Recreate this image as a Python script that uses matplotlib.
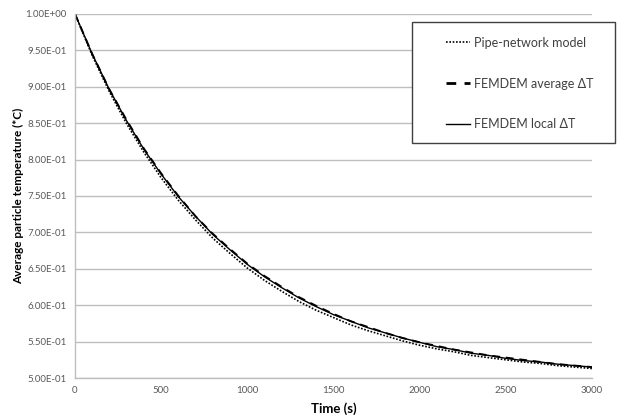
import matplotlib
matplotlib.use("Agg")
import matplotlib.pyplot as plt
from matplotlib.ticker import FuncFormatter
from matplotlib.lines import Line2D
from matplotlib.patches import Rectangle

plt.rcParams['font.family'] = ['Lato', 'DejaVu Sans']

time_s = [0, 100, 200, 300, 400, 500, 600, 700, 800, 900, 1000,
          1100, 1200, 1300, 1400, 1500, 1600, 1700, 1800, 1900, 2000,
          2100, 2200, 2300, 2400, 2500, 2600, 2700, 2800, 2900, 3000]

local_dT = [1.000, 0.945, 0.896, 0.853, 0.814, 0.780, 0.749, 0.722, 0.697, 0.676, 0.656,
            0.639, 0.624, 0.610, 0.598, 0.587, 0.578, 0.569, 0.562, 0.555, 0.549,
            0.543, 0.539, 0.534, 0.531, 0.527, 0.524, 0.522, 0.519, 0.517, 0.515]

average_dT = [1.000, 0.945, 0.896, 0.854, 0.815, 0.781, 0.750, 0.722, 0.698, 0.677, 0.657,
              0.640, 0.625, 0.611, 0.599, 0.588, 0.578, 0.570, 0.562, 0.555, 0.549,
              0.544, 0.539, 0.535, 0.531, 0.528, 0.525, 0.522, 0.519, 0.517, 0.515]

pipe_network = [1.000, 0.943, 0.893, 0.849, 0.810, 0.775, 0.744, 0.717, 0.692, 0.671, 0.651,
                0.634, 0.619, 0.605, 0.593, 0.583, 0.573, 0.565, 0.558, 0.551, 0.545,
                0.540, 0.536, 0.531, 0.528, 0.525, 0.522, 0.520, 0.517, 0.515, 0.513]

labels = ["Pipe-network model", "FEMDEM average \u0394T", "FEMDEM local \u0394T"]
y_ticks = [0.50, 0.55, 0.60, 0.65, 0.70, 0.75, 0.80, 0.85, 0.90, 0.95, 1.00]
x_ticks = [0, 500, 1000, 1500, 2000, 2500, 3000]

W, H = 630, 419
fig = plt.figure(figsize=(W / 100, H / 100), dpi=100)
ax = fig.add_axes([75 / W, 1 - 378 / H, (592 - 75) / W, (378 - 14) / H])

grid_c = '#BEBEBE'
ax.set_xlim(0, 3000)
ax.set_ylim(0.5, 1.0)
ax.set_yticks(y_ticks)
ax.set_xticks(x_ticks)
ax.yaxis.set_major_formatter(FuncFormatter(lambda v, p: "%.2E" % v))
ax.grid(axis='y', color=grid_c, linewidth=1.0)
ax.set_axisbelow(True)
for s in ['top', 'right']:
    ax.spines[s].set_visible(False)
for s in ['left', 'bottom']:
    ax.spines[s].set_color(grid_c)
    ax.spines[s].set_linewidth(1.0)
ax.tick_params(length=0, labelsize=7, colors='#595959', pad=6)

ax.plot(time_s, pipe_network, color='black', linestyle=(0, (1, 1)), linewidth=1.2)
ax.plot(time_s, average_dT, color='black', linestyle=(0, (4, 3)), linewidth=1.4)
ax.plot(time_s, local_dT, color='black', linestyle='-', linewidth=1.0)

ax.set_xlabel("Time (s)", fontsize=9.5, fontweight='bold', labelpad=5)
ax.set_ylabel("Average particle temperature (*C)", fontsize=8.5, fontweight='bold', labelpad=1)

# legend box
x0, y0, x1, y1 = 412, 22, 615, 143
fig.patches.append(Rectangle((x0 / W, 1 - y1 / H), (x1 - x0) / W, (y1 - y0) / H,
                             transform=fig.transFigure, fill=True, facecolor='white',
                             edgecolor='#404040', linewidth=1.0, zorder=5))
handles = [Line2D([], [], color='black', linestyle=(0, (1, 1)), linewidth=1.2),
           Line2D([], [], color='black', linestyle=(0, (3.5, 3)), linewidth=2.0),
           Line2D([], [], color='black', linestyle='-', linewidth=1.0)]
leg = fig.legend(handles, labels, loc='center left', bbox_to_anchor=(440 / W, 1 - 83.5 / H),
                 frameon=False, fontsize=9, borderpad=0, handlelength=1.9, handletextpad=0.35,
                 labelspacing=2.3)
leg.set_zorder(6)
for t in leg.get_texts():
    t.set_color('#404040')

fig.savefig("out.png", dpi=100)
